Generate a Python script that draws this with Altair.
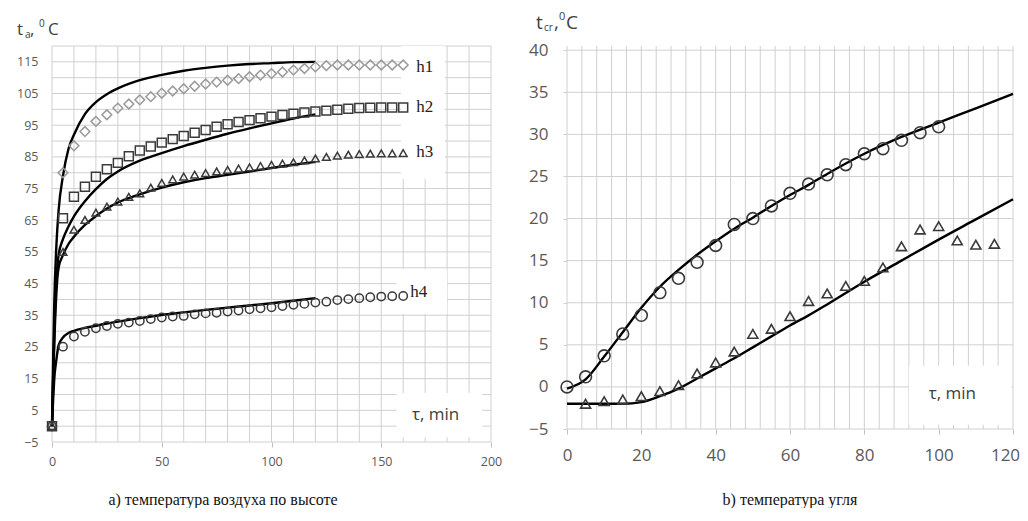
import altair as alt
import pandas as pd

# ---------------- Panel a: air temperature by height ----------------
t_pts_a = list(range(0, 165, 5))
h1_pts = [0, 80, 88.5, 93, 96.2, 98.3, 100.4, 101.7, 103, 104, 105.1, 105.8, 106.5, 107.3,
          108, 108.6, 109.2, 109.7, 110.3, 110.8, 111.3, 111.8, 112.4, 112.9, 113.4, 113.8,
          114, 114, 114, 114, 114, 114, 114]
h2_pts = [0, 65.6, 72.4, 75.6, 78.7, 81.1, 83.1, 85.2, 87, 88.3, 89.5, 90.6, 91.6, 92.6,
          93.5, 94.5, 95.3, 96, 96.6, 97.2, 97.7, 98.2, 98.6, 99, 99.3, 99.6, 99.9, 100.2,
          100.4, 100.5, 100.6, 100.6, 100.6]
h3_pts = [0, 55, 62, 65.1, 67.4, 69.3, 70.9, 72.4, 73.5, 75.3, 76.8, 77.9, 78.8, 79.4, 79.9,
          80.4, 80.9, 81.3, 81.7, 82.1, 82.5, 82.9, 83.3, 83.9, 84.5, 85, 85.4, 85.7, 85.9,
          86, 86.1, 86.1, 86.2]
h4_pts = [0, 25.1, 28.3, 29.8, 30.9, 31.6, 32.3, 32.7, 33.2, 33.8, 34.3, 34.6, 34.8, 35.3,
          35.6, 35.8, 36.2, 36.5, 36.9, 37.2, 37.5, 37.9, 38.3, 38.6, 39, 39.3, 39.8, 40.1,
          40.4, 40.7, 40.9, 41.0, 41.1]

t_line_a = [0, 0.5, 1, 2, 3, 5, 7.5, 10, 15, 20, 25, 30, 40, 50, 60, 70, 80, 90, 100, 110, 120]
h1_line = [0, 20, 38, 57, 68, 79, 87.5, 92, 98.5, 102.3, 104.8, 106.6, 109.2, 110.9, 112.2,
           113.1, 113.8, 114.3, 114.6, 114.9, 115]
h2_line = [0, 15, 28, 46, 54, 59, 63, 66.2, 71, 74.8, 78, 80.4, 83.8, 86.2, 88.4, 90.4, 92.3,
           94, 95.6, 97.1, 98.4]
h3_line = [0, 13, 25, 42, 50, 54, 57.5, 59.8, 63.5, 66.3, 68.7, 70.6, 73.2, 75.3, 77, 78.3,
           79.3, 80.4, 81.5, 82.5, 83.4]
h4_line = [0, 8, 14.6, 21, 25.5, 28, 29.4, 30.1, 31, 31.7, 32.4, 33, 34.1, 35.1, 35.9, 36.7,
           37.4, 38.1, 38.8, 39.6, 40.4]

series_a = ["h1", "h2", "h3", "h4"]
a_x_ticks = [0, 50, 100, 150, 200]
a_y_ticks = list(range(-5, 116, 10))

# ---------------- Panel b: coal temperature ----------------
t_line_b = [0, 5, 10, 15, 20, 25, 30, 35, 40, 45, 50, 55, 60, 65, 70, 80, 90, 100, 110, 120]
c1_line = [-0.2, 0.9, 3.6, 6.5, 9.4, 11.9, 13.9, 15.7, 17.3, 18.8, 20.1, 21.5, 22.8, 24.0,
           25.3, 27.7, 29.7, 31.4, 33.1, 34.8]
c2_line = [-2, -2, -2, -2, -1.8, -1.1, -0.2, 1.0, 2.2, 3.4, 4.7, 6.0, 7.3, 8.5, 9.8, 12.5,
           15.0, 17.5, 19.9, 22.3]
t_circ_b = list(range(0, 105, 5))
c1_pts = [0, 1.2, 3.7, 6.3, 8.5, 11.2, 12.9, 14.8, 16.8, 19.3, 20.0, 21.5, 23.0, 24.1, 25.2,
          26.4, 27.7, 28.3, 29.3, 30.2, 30.9]
t_tri_b = list(range(5, 120, 5))
c2_pts = [-2.0, -1.7, -1.5, -1.1, -0.5, 0.2, 1.6, 2.9, 4.2, 6.3, 6.9, 8.4, 10.2, 11.1, 12.0,
          12.6, 14.2, 16.7, 18.7, 19.1, 17.4, 16.9, 17.0]
b_x_ticks = list(range(0, 121, 20))
b_y_ticks = list(range(-5, 41, 5))

GRID = "#d0d0d0"
LAB = "#595959"
TITLE_C = "#404040"


def text_at(s, x, y, size, font="Open Sans", align="left", color=TITLE_C, baseline="alphabetic"):
    return alt.Chart(pd.DataFrame({"k": [0]})).mark_text(
        text=s, align=align, baseline=baseline, fontSize=size, font=font, color=color
    ).encode(x=alt.value(x), y=alt.value(y))


# ================= Panel a =================
xs_a = alt.Scale(domain=[0, 200], nice=False, zero=False)
ys_a = alt.Scale(domain=[-5, 120], nice=False, zero=False)
ax_xa = alt.Axis(values=a_x_ticks, grid=False, domain=False, ticks=True, tickSize=5,
                 tickColor="#bfbfbf", labelPadding=8, labelFont="Open Sans",
                 labelFontSize=12.5, labelColor=LAB, title=None, labelFlush=False)
ax_ya = alt.Axis(values=a_y_ticks, grid=False, domain=False, ticks=False,
                 labelPadding=14, labelFont="Open Sans", labelFontSize=12.5,
                 labelColor=LAB, title=None, labelFlush=False)
XA = lambda f: alt.X(f, scale=xs_a, axis=ax_xa)
YA = lambda f: alt.Y(f, scale=ys_a, axis=ax_ya)

gx_a = alt.Chart(pd.DataFrame({"t": list(range(0, 201, 10))})).mark_rule(
    color=GRID, strokeWidth=1).encode(x=XA("t:Q"))
gy_a = alt.Chart(pd.DataFrame({"v": list(range(-5, 121, 5))})).mark_rule(
    color=GRID, strokeWidth=1).encode(y=YA("v:Q"))

box_a = pd.DataFrame({"t0": [159, 157, 157], "t1": [179, 180, 196],
                      "v0": [78, 35.5, -3.5], "v1": [120, 49.5, 10.5]})
boxes_a = alt.Chart(box_a).mark_rect(color="white").encode(
    x=XA("t0:Q"), x2="t1:Q", y=YA("v0:Q"), y2="v1:Q")

lines_a_df = pd.concat([
    pd.DataFrame({"t": t_line_a, "v": vals, "s": s})
    for s, vals in zip(series_a, [h1_line, h2_line, h3_line, h4_line])
])
lines_a = alt.Chart(lines_a_df).mark_line(
    color="black", strokeWidth=2.4, interpolate="monotone").encode(
    x=XA("t:Q"), y=YA("v:Q"), detail="s:N")

pt_style_a = [("diamond", "#9a9a9a", 95), ("square", "#3a3a3a", 80),
              ("triangle-up", "#3a3a3a", 60), ("circle", "#3a3a3a", 70)]
pts_layers_a = []
for vals, (shape, col, size) in zip([h1_pts, h2_pts, h3_pts, h4_pts], pt_style_a):
    pts_layers_a.append(
        alt.Chart(pd.DataFrame({"t": t_pts_a, "v": vals})).mark_point(
            shape=shape, filled=False, color=col, size=size, strokeWidth=1.5, opacity=1).encode(
            x=XA("t:Q"), y=YA("v:Q")))

lab_a = pd.DataFrame({"t": [165.9, 165.9, 165.9, 163.2], "v": [113.4, 100.8, 86.6, 42.4],
                      "txt": series_a})
labels_a = alt.Chart(lab_a).mark_text(
    align="left", baseline="middle", font="Liberation Serif", fontSize=17, color="#222222").encode(
    x=XA("t:Q"), y=YA("v:Q"), text="txt:N")
tau_a = alt.Chart(pd.DataFrame({"t": [164], "v": [3.5], "txt": ["τ, min"]})).mark_text(
    align="left", baseline="middle", font="Open Sans", fontSize=17, color=TITLE_C).encode(
    x=XA("t:Q"), y=YA("v:Q"), text="txt:N")

title_a = [
    text_at("t", -35, -11, 17),
    text_at("a", -27, -8, 10),
    text_at(",", -22, -11, 17),
    text_at("0", -13, -19, 10),
    text_at("C", -4, -11, 17),
]
cap_a = text_at("a) температура воздуха по высоте", 171, 459, 16,
                font="Liberation Serif", align="center", color="#111111")

left = alt.layer(gx_a, gy_a, boxes_a, lines_a, *pts_layers_a, labels_a, tau_a,
                 *title_a, cap_a).properties(width=439, height=396)

# ================= Panel b =================
xs_b = alt.Scale(domain=[0, 120], nice=False, zero=False)
ys_b = alt.Scale(domain=[-5, 40.5], nice=False, zero=False)
ax_xb = alt.Axis(values=b_x_ticks, grid=False, domain=False, ticks=True, tickSize=5,
                 tickColor="#bfbfbf", labelPadding=13, labelFont="Open Sans",
                 labelFontSize=17, labelColor=LAB, title=None, labelFlush=False,
                 labelOffset={"condition": {"test": "datum.value >= 120", "value": -8},
                              "value": 0})
ax_yb = alt.Axis(values=b_y_ticks, grid=False, domain=False, ticks=True, tickSize=4,
                 tickColor="#d0d0d0", labelPadding=15, labelFont="Open Sans",
                 labelFontSize=17, labelColor=LAB, title=None, labelFlush=False)
XB = lambda f: alt.X(f, scale=xs_b, axis=ax_xb)
YB = lambda f: alt.Y(f, scale=ys_b, axis=ax_yb)

gx_b = alt.Chart(pd.DataFrame({"t": list(range(0, 121, 4))})).mark_rule(
    color=GRID, strokeWidth=1).encode(x=XB("t:Q"))
gy_b = alt.Chart(pd.DataFrame({"v": list(range(-5, 41, 5))})).mark_rule(
    color=GRID, strokeWidth=1).encode(y=YB("v:Q"))

box_b = pd.DataFrame({"t0": [92], "t1": [119.5], "v0": [-4.5], "v1": [2.5]})
boxes_b = alt.Chart(box_b).mark_rect(color="white").encode(
    x=XB("t0:Q"), x2="t1:Q", y=YB("v0:Q"), y2="v1:Q")

lines_b_df = pd.concat([
    pd.DataFrame({"t": t_line_b, "v": c1_line, "s": "c1"}),
    pd.DataFrame({"t": t_line_b, "v": c2_line, "s": "c2"}),
])
lines_b = alt.Chart(lines_b_df).mark_line(
    color="black", strokeWidth=2.4, interpolate="monotone").encode(
    x=XB("t:Q"), y=YB("v:Q"), detail="s:N")

circ_b = alt.Chart(pd.DataFrame({"t": t_circ_b, "v": c1_pts})).mark_point(
    shape="circle", filled=False, color="#3a3a3a", size=140, strokeWidth=1.6, opacity=1).encode(
    x=XB("t:Q"), y=YB("v:Q"))
tri_b = alt.Chart(pd.DataFrame({"t": t_tri_b, "v": c2_pts})).mark_point(
    shape="triangle-up", filled=False, color="#3a3a3a", size=100, strokeWidth=1.6, opacity=1).encode(
    x=XB("t:Q"), y=YB("v:Q"))

tau_b = alt.Chart(pd.DataFrame({"t": [97.3], "v": [-0.8], "txt": ["τ, min"]})).mark_text(
    align="left", baseline="middle", font="Open Sans", fontSize=17, color=TITLE_C).encode(
    x=XB("t:Q"), y=YB("v:Q"), text="txt:N")

title_b = [
    text_at("t", -31, -17, 19),
    text_at("cr", -23, -15, 10),
    text_at(",", -13, -17, 19),
    text_at("0", -8, -26, 11),
    text_at("C", -1, -17, 19),
]
cap_b = text_at("b) температура угля", 223, 459, 16,
                font="Liberation Serif", align="center", color="#111111")

right = alt.layer(gx_b, gy_b, boxes_b, lines_b, circ_b, tri_b, tau_b,
                  *title_b, cap_b).properties(width=446, height=383)

chart = alt.hconcat(left, right, spacing=76, bounds="flush").configure_view(
    stroke=None).properties(padding={"left": 8, "top": 3, "right": 0, "bottom": 0},
                            background="white")

chart.save("out.html", embed_options={"renderer": "svg", "actions": False})
